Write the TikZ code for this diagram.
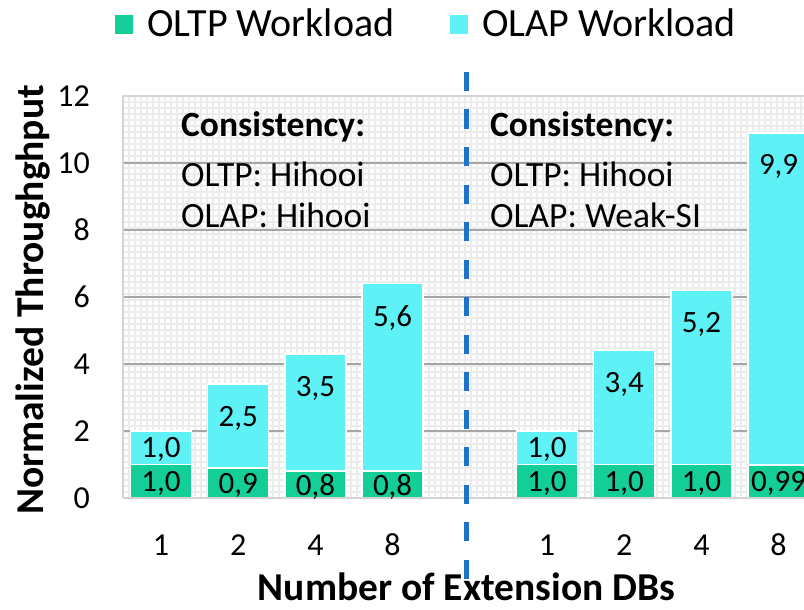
\documentclass[tikz,border=0pt]{standalone}
\usepackage{fontspec}
\setmainfont{Carlito}
\definecolor{oltp}{RGB}{20,206,151}
\definecolor{olap}{RGB}{94,241,246}
\definecolor{minorgrid}{RGB}{236,236,236}
\definecolor{majorgrid}{RGB}{166,166,166}
\definecolor{plotframe}{RGB}{212,212,212}
\definecolor{divider}{RGB}{31,114,201}
\begin{document}
\begin{tikzpicture}[x=1pt,y=-1pt,
  seg/.style={draw=white, line width=1.5pt},
  vlabel/.style={font=\fontsize{31}{37}\selectfont, inner sep=0pt, text depth=0pt},
  ticklabel/.style={font=\fontsize{32}{38}\selectfont, inner sep=0pt, text depth=0pt, anchor=east},
  catlabel/.style={font=\fontsize{32}{38}\selectfont, inner sep=0pt, text depth=0pt},
  note/.style={font=\fontsize{35.5}{42}\selectfont, inner sep=0pt, anchor=base west},
  legendtext/.style={font=\fontsize{40}{48}\selectfont, inner sep=0pt, anchor=base west},
  axistitle/.style={font=\fontsize{39.5}{47}\selectfont\bfseries, inner sep=0pt, anchor=base}]
\useasboundingbox (0,0) rectangle (804,610);
\clip (0,0) rectangle (804,610);

% fine background grid of the plot area
\foreach \x in {123,129,...,804} \draw[minorgrid, line width=1.2pt] (\x,96) -- (\x,498);
\foreach \y in {96,102,...,498} \draw[minorgrid, line width=1.2pt] (123,\y) -- (804,\y);

% major gridlines at 2,4,...,10
\foreach \y in {163,230,297,364,431} \draw[majorgrid, line width=1.5pt] (123,\y) -- (804,\y);

% plot frame
\draw[plotframe, line width=1.5pt] (804,96) -- (123,96) -- (123,498);

% stacked bars: (centre, OLTP value, total)
\foreach \cx/\a/\t in {161/1.0/2.0, 238.2/0.9/3.4, 315.4/0.8/4.3, 392.6/0.8/6.4,
                      547/1.0/2.0, 624.2/1.0/4.4, 701.4/1.0/6.2, 778.6/0.99/10.89}{
  \filldraw[seg, fill=oltp] (\cx-30.5,498) rectangle (\cx+30.5,{498-33.5*\a});
  \filldraw[seg, fill=olap] (\cx-30.5,{498-33.5*\a}) rectangle (\cx+30.5,{498-33.5*\t});
}

% value axis line
\draw[plotframe, line width=2.5pt] (123,498) -- (804,498);

% OLTP values
\node[vlabel] (a1) at (161,481.3) {1,0};
\node[vlabel] (a2) at (238.2,483) {0,9};
\node[vlabel] (a3) at (315.4,484.6) {0,8};
\node[vlabel] (a4) at (392.6,484.6) {0,8};
\node[vlabel] (b1) at (547,481.3) {1,0};
\node[vlabel] (b2) at (624.2,481.3) {1,0};
\node[vlabel] (b3) at (701.4,481.3) {1,0};
\node[vlabel] (b4) at (778.6,481.4) {0,99};

% OLAP values
\node[vlabel] (c1) at (161,447.8) {1,0};
\node[vlabel] (c2) at (238.2,416.5) {2,5};
\node[vlabel] (c3) at (315.4,386) {3,5};
\node[vlabel] (c4) at (392.6,315.6) {5,6};
\node[vlabel] (d1) at (547,447.8) {1,0};
\node[vlabel] (d2) at (624.2,382.6) {3,4};
\node[vlabel] (d3) at (701.4,322) {5,2};
\node[vlabel] (d4) at (778.6,164.5) {9,9};

% value axis ticks
\node[ticklabel] (t0) at (90,498) {0};
\node[ticklabel] (t2) at (90,431) {2};
\node[ticklabel] (t4) at (90,364) {4};
\node[ticklabel] (t6) at (90,297) {6};
\node[ticklabel] (t8) at (90,230) {8};
\node[ticklabel] (t10) at (90,163) {10};
\node[ticklabel] (t12) at (90,96) {12};

% category labels
\node[catlabel] (k1) at (161,545) {1};
\node[catlabel] (k2) at (238.2,545) {2};
\node[catlabel] (k3) at (315.4,545) {4};
\node[catlabel] (k4) at (392.6,545) {8};
\node[catlabel] (m1) at (547,545) {1};
\node[catlabel] (m2) at (624.2,545) {2};
\node[catlabel] (m3) at (701.4,545) {4};
\node[catlabel] (m4) at (778.6,545) {8};

% consistency notes
\node[note, font=\fontsize{35.5}{42}\selectfont\bfseries] (n1) at (181,136) {Consistency:};
\node[note] (n2) at (181,186) {OLTP: Hihooi};
\node[note] (n3) at (181,227) {OLAP: Hihooi};
\node[note, font=\fontsize{35.5}{42}\selectfont\bfseries] (n4) at (490,136) {Consistency:};
\node[note] (n5) at (490,186) {OLTP: Hihooi};
\node[note] (n6) at (490,227) {OLAP: Weak-SI};

% dashed separator between the two configurations
\coordinate (divtop) at (466,72);
\coordinate (divbot) at (466,580);
\draw[divider, line width=5pt, dash pattern=on 19pt off 18.5pt] (divtop) -- (divbot);

% legend
\fill[oltp] (115,15.5) rectangle (133,34.5);
\node[legendtext] (l1) at (147,37) {OLTP Workload};
\fill[olap] (450,15.5) rectangle (468,34.5);
\node[legendtext] (l2) at (482,37) {OLAP Workload};

% axis titles
\node[axistitle] (xt) at (466.5,600) {Number of Extension DBs};
\node[axistitle, rotate=90] (yt) at (43,300) {Normalized Throughghput};
\end{tikzpicture}
\end{document}
